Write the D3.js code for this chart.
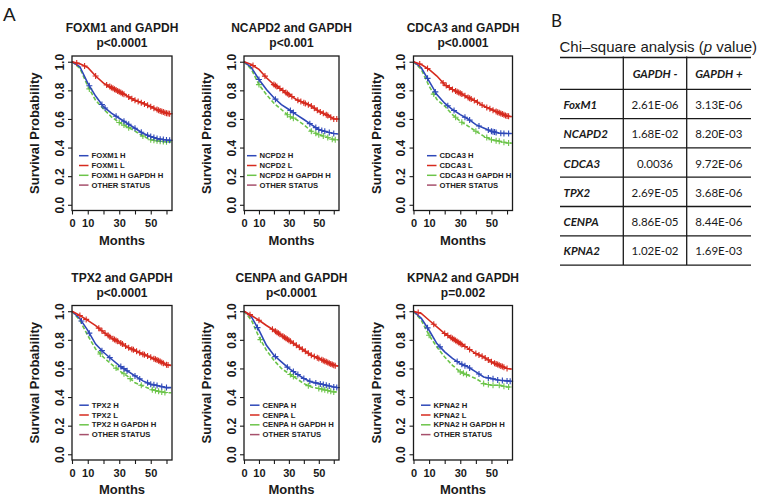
<!DOCTYPE html>
<html><head><meta charset="utf-8">
<script src="https://cdn.jsdelivr.net/npm/d3@7"></script>
<style>body{margin:0;background:#fff}svg{display:block}</style>
</head><body>
<svg id="c" width="761" height="500"></svg>
<script>
// ---------- data ----------
const panelGenes = ["FOXM1","NCAPD2","CDCA3","TPX2","CENPA","KPNA2"];
const legendGenes = ["FOXM1","NCPD2","CDCA3","TPX2","CENPA","KPNA2"];
const pValues = ["p<0.0001","p<0.001","p<0.0001","p<0.0001","p<0.0001","p=0.002"];
const yTicks = [0,0.2,0.4,0.6,0.8,1.0];
const xTicks = [0,10,20,30,40,50,60];
const xTickLabels = ["0","10","","30","","50",""];
const months = [0,5,10,15,20,25,30,35,40,45,50,55,60,63];

const foxm1L  = [1,0.985,0.96,0.90,0.85,0.82,0.79,0.76,0.73,0.71,0.686,0.66,0.64,0.635];
const foxm1H  = [1,0.965,0.85,0.76,0.686,0.64,0.605,0.57,0.535,0.50,0.477,0.46,0.453,0.45];
const foxm1HG = [1,0.955,0.83,0.73,0.67,0.615,0.575,0.545,0.515,0.48,0.455,0.445,0.44,0.44];
const ncapd2L  = [1,0.98,0.946,0.888,0.84,0.806,0.77,0.736,0.713,0.69,0.654,0.63,0.60,0.60];
const ncapd2H  = [1,0.958,0.876,0.806,0.748,0.70,0.666,0.63,0.596,0.56,0.526,0.51,0.498,0.495];
const ncapd2HG = [1,0.946,0.84,0.77,0.71,0.666,0.62,0.596,0.56,0.514,0.49,0.474,0.455,0.455];
const cdca3L  = [1,0.98,0.946,0.90,0.84,0.806,0.78,0.75,0.724,0.69,0.666,0.643,0.62,0.615];
const cdca3H  = [1,0.958,0.865,0.77,0.71,0.666,0.63,0.60,0.56,0.537,0.514,0.50,0.498,0.498];
const cdca3HG = [1,0.946,0.83,0.736,0.69,0.63,0.584,0.55,0.514,0.48,0.455,0.444,0.432,0.43];
const tpx2L  = [1,0.97,0.936,0.90,0.854,0.814,0.784,0.75,0.725,0.70,0.678,0.654,0.625,0.62];
const tpx2H  = [1,0.948,0.866,0.77,0.713,0.666,0.62,0.584,0.548,0.513,0.49,0.478,0.466,0.466];
const tpx2HG = [1,0.936,0.83,0.736,0.678,0.63,0.584,0.548,0.50,0.478,0.454,0.44,0.43,0.43];
const cenpaL  = [1,0.97,0.937,0.90,0.867,0.832,0.797,0.762,0.727,0.692,0.67,0.646,0.622,0.615];
const cenpaH  = [1,0.96,0.867,0.762,0.692,0.646,0.60,0.564,0.53,0.506,0.494,0.483,0.47,0.465];
const cenpaHG = [1,0.937,0.82,0.727,0.657,0.60,0.564,0.53,0.494,0.47,0.46,0.448,0.436,0.435];
const kpna2L  = [1,0.984,0.937,0.89,0.844,0.81,0.774,0.74,0.704,0.68,0.646,0.622,0.60,0.595];
const kpna2H  = [1,0.95,0.867,0.774,0.716,0.67,0.634,0.61,0.576,0.54,0.53,0.517,0.513,0.51];
const kpna2HG = [1,0.937,0.832,0.75,0.68,0.622,0.576,0.552,0.53,0.494,0.483,0.483,0.47,0.47];

// censoring times (months)
const foxm1Lc  = [3,8,15,22,24,25,26,27,28,29,30,31,32,33,36,38,40,42,44,46,48,50,52,54,55,56,57,58,59,60,61,62];
const foxm1Hc  = [11,19,21,28,33,36,40,44,48,50,52,54,56,58,60,62];
const foxm1HGc = [11,30,33,36,45,50,52,54,56,58,60];
const ncapd2Lc  = [6,14,20,21,22,24,26,28,29,30,32,36,38,40,41,43,45,47,49,51,53,55,56,58,60,62];
const ncapd2Hc  = [10,21,31,33,44,48,50,52,54,57,60];
const ncapd2HGc = [10,29,31,33,45,48,50,53,56,59,61];
const cdca3Lc  = [4,9,19,21,23,25,27,28,29,30,31,33,35,36,37,39,41,44,47,49,51,53,54,55,56,57,58,59,60,61];
const cdca3Hc  = [9,14,22,26,33,36,42,48,50,51,52,53,56,58,61];
const cdca3HGc = [13,27,31,40,47,50,53,55,58,61];
const tpx2Lc  = [5,9,17,19,21,23,24,26,27,28,29,31,32,34,36,38,39,41,43,45,46,48,50,52,53,54,55,56,57,58,60,61];
const tpx2Hc  = [6,11,19,24,31,33,35,40,43,48,50,52,54,57,60];
const tpx2HGc = [18,28,33,37,44,51,53,55,57,59];
const cenpaLc  = [4,10,19,21,22,23,24,26,27,28,29,30,31,33,35,37,39,41,43,45,47,49,50,52,53,54,55,56,57,58,59,60,61];
const cenpaHc  = [9,21,29,33,36,40,44,48,51,53,55,57,60,62];
const cenpaHGc = [11,31,33,43,50,52,54,56,58,60];
const kpna2Lc  = [3,13,20,22,24,25,26,27,28,29,30,31,33,36,40,42,44,46,48,50,52,53,54,55,56,57,58,60];
const kpna2Hc  = [9,17,28,31,33,36,42,48,51,54,57,60,62];
const kpna2HGc = [10,30,32,34,45,48,51,55,58,61];

// table
const tableGenes = ["FoxM1","NCAPD2","CDCA3","TPX2","CENPA","KPNA2"];
const tableHeaders = ["GAPDH -","GAPDH +"];
const gapdhNeg = ["2.61E-06","1.68E-02","0.0036","2.69E-05","8.86E-05","1.02E-02"];
const gapdhPos = ["3.13E-06","8.20E-03","9.72E-06","3.68E-06","8.44E-06","1.69E-03"];

// ---------- assembly ----------
const seriesL  = [foxm1L, ncapd2L, cdca3L, tpx2L, cenpaL, kpna2L];
const seriesH  = [foxm1H, ncapd2H, cdca3H, tpx2H, cenpaH, kpna2H];
const seriesHG = [foxm1HG, ncapd2HG, cdca3HG, tpx2HG, cenpaHG, kpna2HG];
const censL  = [foxm1Lc, ncapd2Lc, cdca3Lc, tpx2Lc, cenpaLc, kpna2Lc];
const censH  = [foxm1Hc, ncapd2Hc, cdca3Hc, tpx2Hc, cenpaHc, kpna2Hc];
const censHG = [foxm1HGc, ncapd2HGc, cdca3HGc, tpx2HGc, cenpaHGc, kpna2HGc];

const C = {blue:"#2e48b8", red:"#d62a1e", green:"#6cc44a", other:"#a6506c", ink:"#1a1a1a"};
const SANS = "'Liberation Sans', Arial, Helvetica, sans-serif";
const svg = d3.select("#c");

const colLeft = [72, 244, 413.5];
const colWidth = [100, 95, 99];
const rowTop = [56, 305.5];
const boxH = 154.5;
const legendDx = [7, 3, 13.5, 7.3, 6, 7.5];

const plus = {draw(ctx){ctx.moveTo(-3,0);ctx.lineTo(3,0);ctx.moveTo(0,-3);ctx.lineTo(0,3);}};

panelGenes.forEach((gene, i) => {
  const r = Math.floor(i / 3), c = i % 3;
  const L = colLeft[c], T = rowTop[r], W = colWidth[c], B = T + boxH;
  const x = d3.scaleLinear().domain([0, 63.5]).range([L, L + W]);
  const y = d3.scaleLinear().domain([-0.04, 1.04]).range([B, T]);
  const g = svg.append("g");

  // titles
  g.append("text").attr("x", L + W/2).attr("y", T - 24).attr("text-anchor","middle")
    .attr("font-family", SANS).attr("font-weight","bold").attr("font-size", 12).attr("fill", C.ink)
    .text(gene + " and GAPDH");
  g.append("text").attr("x", L + W/2).attr("y", T - 9).attr("text-anchor","middle")
    .attr("font-family", SANS).attr("font-weight","bold").attr("font-size", 12).attr("fill", C.ink)
    .text(pValues[i]);

  // y axis
  const ya = d3.axisLeft(y).tickValues(yTicks).tickSize(4).tickFormat(d3.format(".1f"));
  const yg = g.append("g").attr("transform", `translate(${L},0)`).call(ya);
  yg.select(".domain").remove();
  yg.selectAll(".tick line").attr("stroke", C.ink).attr("stroke-width", 1.1);
  yg.selectAll(".tick text").attr("transform", "rotate(-90)")
    .attr("x", 0).attr("y", -12.5).attr("dy", "0.35em").attr("text-anchor","middle")
    .attr("font-family", SANS).attr("font-weight","bold").attr("font-size", 12).attr("fill", C.ink);

  // x axis
  const xa = d3.axisBottom(x).tickValues(xTicks).tickSize(4)
    .tickFormat((d, k) => xTickLabels[k]);
  const xg = g.append("g").attr("transform", `translate(0,${B})`).call(xa);
  xg.select(".domain").remove();
  xg.selectAll(".tick line").attr("stroke", C.ink).attr("stroke-width", 1.1);
  xg.selectAll(".tick text").attr("y", 9).attr("dy","0.71em")
    .attr("font-family", SANS).attr("font-weight","bold").attr("font-size", 11).attr("fill", C.ink);

  // axis titles
  g.append("text").attr("transform", `translate(${L - 33},${(T + B)/2}) rotate(-90)`)
    .attr("text-anchor","middle").attr("font-family", SANS).attr("font-weight","bold")
    .attr("font-size", 13).attr("fill", C.ink).text("Survival Probability");
  g.append("text").attr("x", L + W/2).attr("y", B + 34).attr("text-anchor","middle")
    .attr("font-family", SANS).attr("font-weight","bold").attr("font-size", 13).attr("fill", C.ink)
    .text("Months");

  // curves
  const line = d3.line().x(d => x(d[0])).y(d => y(d[1]));
  const drawSeries = (vals, cens, color, dash) => {
    const pts = months.map((m, k) => [m, vals[k]]);
    g.append("path").datum(pts).attr("d", line).attr("fill","none")
      .attr("stroke", color).attr("stroke-width", 1.6).attr("stroke-dasharray", dash || null);
    const interp = d3.scaleLinear().domain(months).range(vals);
    g.selectAll(null).data(cens).join("path")
      .attr("transform", t => `translate(${x(t)},${y(interp(t))})`)
      .attr("d", d3.symbol().type(plus))
      .attr("fill","none").attr("stroke", color).attr("stroke-width", 1.1);
  };
  drawSeries(seriesHG[i], censHG[i], C.green, "4,2");
  drawSeries(seriesH[i], censH[i], C.blue);
  drawSeries(seriesL[i], censL[i], C.red);

  // legend
  const leg = [
    [legendGenes[i] + " H", C.blue],
    [legendGenes[i] + " L", C.red],
    [legendGenes[i] + " H GAPDH H", C.green],
    ["OTHER STATUS", C.other]
  ];
  const lx = L + legendDx[i];
  leg.forEach(([lab, col], k) => {
    const ly = T + 99.7 + k * 9.8;
    g.append("line").attr("x1", lx).attr("x2", lx + 9.5).attr("y1", ly).attr("y2", ly)
      .attr("stroke", col).attr("stroke-width", 1.5);
    g.append("text").attr("x", lx + 12.5).attr("y", ly).attr("dy","0.35em")
      .attr("font-family", SANS).attr("font-weight","bold").attr("font-size", 7.7).attr("fill", "#222")
      .text(lab);
  });

  // box
  g.append("rect").attr("x", L).attr("y", T).attr("width", W).attr("height", boxH)
    .attr("fill","none").attr("stroke", C.ink).attr("stroke-width", 1.3);
});

// panel letters
svg.append("text").attr("x", 3).attr("y", 21).attr("font-family", SANS).attr("font-size", 19)
  .attr("fill", C.ink).text("A");
svg.append("text").attr("x", 551).attr("y", 27).attr("font-family", "Lato, 'Open Sans', sans-serif")
  .attr("font-size", 17).attr("fill", C.ink).text("B");

// table
const TF = "Lato, 'Open Sans', sans-serif";
svg.append("text").attr("x", 559.5).attr("y", 51.5).attr("font-family", SANS).attr("font-size", 15)
  .attr("fill", C.ink)
  .call(t => { t.append("tspan").text("Chi\u2013square analysis (");
               t.append("tspan").attr("font-style","italic").text("p");
               t.append("tspan").text(" value)"); });

const tL = 560, tR = 751, tTop = 57.5, headB = 89.3, rowH = 29.3;
const colX = [tL, 623.3, 686.7, tR];
const rowY = d3.range(tableGenes.length + 1).map(k => headB + k * rowH);
const tg = svg.append("g");
tg.append("line").attr("x1", tL).attr("x2", tR).attr("y1", tTop).attr("y2", tTop)
  .attr("stroke", C.ink).attr("stroke-width", 1.4);
rowY.forEach(yy => tg.append("line").attr("x1", tL).attr("x2", tR).attr("y1", yy).attr("y2", yy)
  .attr("stroke", C.ink).attr("stroke-width", 1.3));
[colX[1], colX[2]].forEach(xx => tg.append("line").attr("x1", xx).attr("x2", xx)
  .attr("y1", tTop - 1).attr("y2", rowY[rowY.length - 1])
  .attr("stroke", C.ink).attr("stroke-width", 1.3));
tableHeaders.forEach((h, k) => tg.append("text")
  .attr("x", (colX[k+1] + colX[k+2]) / 2).attr("y", (tTop + headB) / 2 + 1).attr("dy","0.35em")
  .attr("text-anchor","middle").attr("font-family", TF).attr("font-weight","bold")
  .attr("font-style","italic").attr("font-size", 11.5).attr("fill", C.ink).text(h));
tableGenes.forEach((gname, k) => {
  const cy = rowY[k] + rowH / 2 + 1;
  tg.append("text").attr("x", tL + 3.5).attr("y", cy).attr("dy","0.35em")
    .attr("font-family", TF).attr("font-weight","bold").attr("font-style","italic")
    .attr("font-size", 11.5).attr("fill", C.ink).text(gname);
  [gapdhNeg[k], gapdhPos[k]].forEach((v, j) => tg.append("text")
    .attr("x", (colX[j+1] + colX[j+2]) / 2).attr("y", cy).attr("dy","0.35em")
    .attr("text-anchor","middle").attr("font-family", TF).attr("font-size", 11.5)
    .attr("fill", C.ink).text(v));
});
</script>
</body></html>
